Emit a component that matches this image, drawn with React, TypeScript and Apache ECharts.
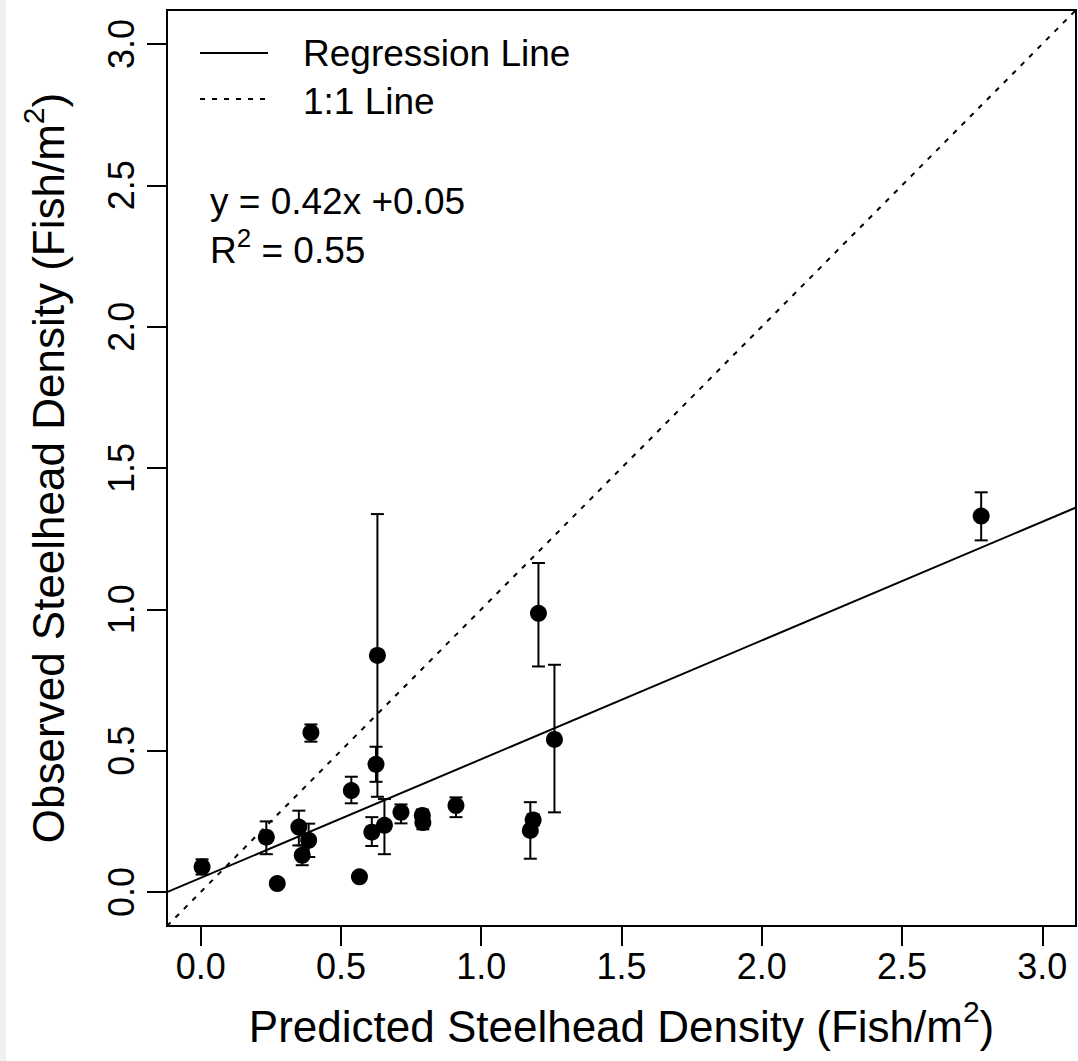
import React, { useEffect, useRef } from "react";
import * as echarts from "echarts";

// ---- data ----
const predicted = [0.005, 0.234, 0.273, 0.35, 0.362, 0.385, 0.393, 0.537, 0.566, 0.61, 0.625, 0.63, 0.655, 0.714, 0.79, 0.792, 0.91, 1.175, 1.185, 1.204, 1.261, 2.782];
const observed = [0.089, 0.194, 0.03, 0.23, 0.13, 0.183, 0.564, 0.359, 0.054, 0.212, 0.452, 0.837, 0.236, 0.282, 0.271, 0.246, 0.306, 0.218, 0.255, 0.986, 0.54, 1.33];
const errLow: (number | null)[] = [0.062, 0.134, null, 0.165, 0.095, 0.124, 0.532, 0.314, null, 0.163, 0.39, 0.337, 0.134, 0.243, 0.255, 0.222, 0.265, 0.118, 0.235, 0.798, 0.282, 1.244];
const errHigh: (number | null)[] = [0.116, 0.25, null, 0.288, 0.165, 0.242, 0.593, 0.408, null, 0.265, 0.514, 1.337, 0.329, 0.31, 0.292, 0.27, 0.335, 0.318, 0.275, 1.164, 0.804, 1.414];

const xTicks = [0, 0.5, 1.0, 1.5, 2.0, 2.5, 3.0];
const yTicks = [0, 0.5, 1.0, 1.5, 2.0, 2.5, 3.0];
const axisMin = -0.12;
const axisMax = 3.12;

const regSlope = 0.42;
const regIntercept = 0.05;

const FONT = "Liberation Sans, Arial, sans-serif";

export default function App() {
  const ref = useRef<HTMLDivElement>(null);

  useEffect(() => {
    if (!ref.current) return;
    const chart = echarts.init(ref.current, null, { renderer: "svg" });

    const points = predicted.map((x, i) => [x, observed[i]]);
    const bars = predicted
      .map((x, i) => [x, errLow[i], errHigh[i]])
      .filter((d) => d[1] !== null && d[2] !== null);

    const regLine = [
      [axisMin, regSlope * axisMin + regIntercept],
      [axisMax, regSlope * axisMax + regIntercept],
    ];
    const oneToOne = [
      [axisMin, axisMin],
      [axisMax, axisMax],
    ];

    const tickLabel = {
      fontSize: 36,
      color: "#000",
      fontFamily: FONT,
    };

    const option: any = {
      animation: false,
      backgroundColor: "#fff",
      textStyle: { fontFamily: FONT },
      grid: {
        left: 167,
        right: 2,
        top: 10,
        bottom: 130,
        show: true,
        borderColor: "#000",
        borderWidth: 2,
        backgroundColor: "transparent",
      },
      xAxis: {
        type: "value",
        min: axisMin,
        max: axisMax,
        splitLine: { show: false },
        axisLine: { show: true, onZero: false, lineStyle: { color: "#000", width: 2 } },
        axisTick: {
          show: true,
          customValues: xTicks,
          length: 20,
          lineStyle: { color: "#000", width: 2 },
        },
        axisLabel: {
          ...tickLabel,
          customValues: xTicks,
          margin: 22,
          formatter: (v: number) => v.toFixed(1),
        },
        name: "Predicted Steelhead Density (Fish/m{sup|2})",
        nameLocation: "middle",
        nameGap: 70,
        nameTextStyle: {
          fontSize: 44,
          lineHeight: 60,
          color: "#000",
          fontFamily: FONT,
          rich: {
            sup: { fontSize: 30, lineHeight: 30, verticalAlign: "top", color: "#000", fontFamily: FONT },
          },
        },
      },
      yAxis: {
        type: "value",
        min: axisMin,
        max: axisMax,
        splitLine: { show: false },
        axisLine: { show: true, onZero: false, lineStyle: { color: "#000", width: 2 } },
        axisTick: {
          show: true,
          customValues: yTicks,
          length: 20,
          lineStyle: { color: "#000", width: 2 },
        },
        axisLabel: {
          ...tickLabel,
          customValues: yTicks,
          rotate: 90,
          margin: 28,
          formatter: (v: number) => v.toFixed(1),
        },
        name: "Observed Steelhead Density (Fish/m{sup|2})",
        nameLocation: "middle",
        nameRotate: 90,
        nameGap: 89,
        nameTextStyle: {
          fontSize: 44,
          lineHeight: 60,
          color: "#000",
          fontFamily: FONT,
          rich: {
            sup: { fontSize: 30, lineHeight: 30, verticalAlign: "top", color: "#000", fontFamily: FONT },
          },
        },
      },
      series: [
        {
          type: "line",
          data: oneToOne,
          symbol: "none",
          lineStyle: { color: "#000", width: 2, type: [5, 7] },
          silent: true,
          z: 2,
        },
        {
          type: "line",
          data: regLine,
          symbol: "none",
          lineStyle: { color: "#000", width: 2 },
          silent: true,
          z: 2,
        },
        {
          type: "custom",
          data: bars,
          encode: { x: 0, y: [1, 2] },
          z: 3,
          renderItem: (params: any, api: any) => {
            const x = api.value(0);
            const lo = api.value(1);
            const hi = api.value(2);
            const p1 = api.coord([x, lo]);
            const p2 = api.coord([x, hi]);
            const w = 6.5;
            const style = { stroke: "#000", lineWidth: 2 };
            return {
              type: "group",
              children: [
                { type: "line", shape: { x1: p1[0], y1: p1[1], x2: p2[0], y2: p2[1] }, style },
                { type: "line", shape: { x1: p1[0] - w, y1: p1[1], x2: p1[0] + w, y2: p1[1] }, style },
                { type: "line", shape: { x1: p2[0] - w, y1: p2[1], x2: p2[0] + w, y2: p2[1] }, style },
              ],
            };
          },
        },
        {
          type: "scatter",
          data: points,
          symbol: "circle",
          symbolSize: 17,
          itemStyle: { color: "#000", opacity: 1 },
          z: 4,
        },
      ],
      graphic: [
        { type: "rect", left: 0, top: 0, shape: { width: 6, height: 1061 }, style: { fill: "#f0f0f0" }, silent: true },
        { type: "line", shape: { x1: 200, y1: 53, x2: 268, y2: 53 }, style: { stroke: "#000", lineWidth: 2 } },
        { type: "line", shape: { x1: 200, y1: 99, x2: 268, y2: 99 }, style: { stroke: "#000", lineWidth: 2, lineDash: [5, 7] } },
        {
          type: "text",
          x: 303,
          y: 53,
          style: { text: "Regression Line", fontSize: 37, fill: "#000", fontFamily: FONT, verticalAlign: "middle" },
        },
        {
          type: "text",
          x: 303,
          y: 101,
          style: { text: "1:1 Line", fontSize: 37, fill: "#000", fontFamily: FONT, verticalAlign: "middle" },
        },
        {
          type: "text",
          x: 210,
          y: 201,
          style: { text: "y = 0.42x +0.05", fontSize: 37, fill: "#000", fontFamily: FONT, verticalAlign: "middle" },
        },
        {
          type: "text",
          x: 210,
          y: 250,
          style: {
            text: "R{sup|2} = 0.55",
            fontSize: 37,
            lineHeight: 50,
            fill: "#000",
            fontFamily: FONT,
            verticalAlign: "middle",
            rich: {
              sup: { fontSize: 26, lineHeight: 26, verticalAlign: "top", fill: "#000", fontFamily: FONT },
            },
          },
        },
      ],
    };

    chart.setOption(option);
    return () => chart.dispose();
  }, []);

  return (
    <div
      ref={ref}
      style={{ position: "absolute", left: 0, top: 0, width: 1078, height: 1061 }}
    />
  );
}
